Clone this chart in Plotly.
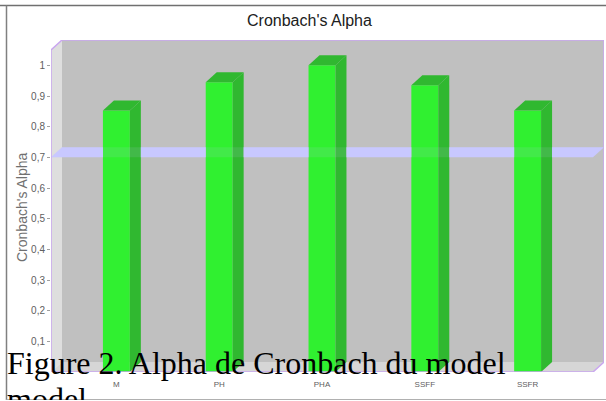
import plotly.graph_objects as go

categories = ["M", "PH", "PHA", "SSFF", "SSFR"]
alpha_values = [0.853, 0.945, 1.0, 0.935, 0.853]
threshold = 0.7
y_ticks = [0.1, 0.2, 0.3, 0.4, 0.5, 0.6, 0.7, 0.8, 0.9, 1]
y_tick_labels = ["0,1", "0,2", "0,3", "0,4", "0,5", "0,6", "0,7", "0,8", "0,9", "1"]

W, H = 606, 400
L, R, T, B = 51, 2, 40, 28
BAR_W = 0.262
DX = 0.107
DY = 0.0326
X0, X1 = -0.636, 4.636
Y0, Y1 = 0, 1.05
PURPLE = "#c9a6ef"

def px(x):
    return (x - L) / (W - L - R)
def py(y):
    return (H - B - y) / (H - T - B)

fig = go.Figure()

def poly(xs, ys, fill):
    return dict(type="path", layer="below", xref="x", yref="y",
                path="M " + " L ".join(f"{a},{b}" for a, b in zip(xs, ys)) + " Z",
                fillcolor=fill, line=dict(color="rgba(0,0,0,0)", width=0))

shapes = [
    poly([X0 + DX, X1 + DX, X1 + DX, X0 + DX], [Y0 + DY, Y0 + DY, Y1 + DY, Y1 + DY], "#c0c0c0"),
    poly([X0, X0 + DX, X0 + DX, X0], [Y0, Y0 + DY, Y1 + DY, Y1], "#dedede"),
    poly([X0, X1, X1 + DX, X0 + DX], [Y0, Y0, Y0 + DY, Y0 + DY], "#d6d6d6"),
]

fig.add_trace(go.Bar(x=list(range(len(categories))), y=alpha_values, width=BAR_W,
                     marker=dict(color="#30f030", line=dict(width=0)), hoverinfo="skip"))

for i, v in enumerate(alpha_values):
    l, r = i - BAR_W / 2, i + BAR_W / 2
    fig.add_trace(go.Scatter(x=[r, r + DX, r + DX, r, r], y=[Y0, Y0 + DY, v + DY, v, Y0],
                             mode="lines", fill="toself", fillcolor="#30b830",
                             line=dict(width=0), hoverinfo="skip"))
    fig.add_trace(go.Scatter(x=[l, l + DX, r + DX, r, l], y=[v, v + DY, v + DY, v, v],
                             mode="lines", fill="toself", fillcolor="#30b830",
                             line=dict(width=0), hoverinfo="skip"))

# threshold band: faint over the bars, solid between them
band_x = [X0, X0 + DX, X1 + DX, X1, X0]
band_y = [threshold, threshold + DY, threshold + DY, threshold, threshold]
fig.add_trace(go.Scatter(x=band_x, y=band_y, mode="lines", fill="toself",
                         fillcolor="rgba(200,200,255,0.12)", line=dict(width=0), hoverinfo="skip"))
edges = [e for i in range(len(categories)) for e in (i - BAR_W / 2, i + BAR_W / 2 + DX)]
starts = [X0] + edges[1::2]
ends = edges[0::2] + [X1 + DX]
for k, (a, b) in enumerate(zip(starts, ends)):
    low_a = a
    high_a = a + DX if k == 0 else a
    high_b = b
    low_b = b - DX if k == len(starts) - 1 else b
    fig.add_trace(go.Scatter(x=[low_a, high_a, high_b, low_b, low_a], y=band_y,
                             mode="lines", fill="toself", fillcolor="#c8c8ff",
                             line=dict(width=0), hoverinfo="skip"))

# plot outline
fig.add_trace(go.Scatter(
    x=[X0, X0, X0 + DX, X1 + DX, X1 + DX, X1, X0],
    y=[Y0, Y1, Y1 + DY, Y1 + DY, Y0 + DY, Y0, Y0],
    mode="lines", line=dict(color=PURPLE, width=1.5), hoverinfo="skip", cliponaxis=False))

# page frame
shapes += [
    dict(type="line", xref="paper", yref="paper", x0=px(0), x1=px(W), y0=py(5.5), y1=py(5.5),
         line=dict(color="#707070", width=1.5)),
    dict(type="line", xref="paper", yref="paper", x0=px(6.5), x1=px(6.5), y0=py(5.5), y1=py(H),
         line=dict(color="#808080", width=1.5)),
    dict(type="line", xref="paper", yref="paper", x0=px(6.5), x1=px(W), y0=py(399.5), y1=py(399.5),
         line=dict(color="#b0b0b0", width=1)),
]

annotations = [
    dict(text="Cronbach's Alpha", xref="paper", yref="paper", x=px(309), y=py(21),
         xanchor="center", yanchor="middle", showarrow=False,
         font=dict(family="Liberation Sans", size=16, color="#202020")),
    dict(text="Cronbach's Alpha", xref="paper", yref="paper", x=px(22), y=py(207), textangle=-90,
         xanchor="center", yanchor="middle", showarrow=False,
         font=dict(family="Liberation Sans", size=14, color="#707070")),
    dict(text="Figure 2. Alpha de Cronbach du model", xref="paper", yref="paper",
         x=px(7), y=py(363), xanchor="left", yanchor="middle", xshift=-2, showarrow=False,
         font=dict(family="Liberation Serif", size=32, color="#000000")),
    dict(text="model", xref="paper", yref="paper",
         x=px(7), y=py(399), xanchor="left", yanchor="middle", xshift=-2, showarrow=False,
         font=dict(family="Liberation Serif", size=32, color="#000000")),
]

fig.update_layout(
    width=W, height=H, margin=dict(l=L, r=R, t=T, b=B, autoexpand=False),
    paper_bgcolor="white", plot_bgcolor="white", showlegend=False,
    shapes=shapes, annotations=annotations,
    xaxis=dict(range=[X0, X1 + DX], tickvals=list(range(len(categories))), ticktext=categories,
               showgrid=False, zeroline=False, showline=False, ticks="",
               tickfont=dict(family="Liberation Sans", size=8, color="#606060"), ticklabelstandoff=6),
    yaxis=dict(range=[Y0, Y1 + DY], tickvals=y_ticks, ticktext=y_tick_labels,
               showgrid=False, zeroline=False, showline=False, ticks="outside", ticklen=3,
               tickcolor="#a0a0a0",
               tickfont=dict(family="Liberation Sans", size=10, color="#606060")),
)

post = """
document.body.style.margin='0';
document.documentElement.style.overflow='hidden';
"""
fig.write_html("out.html", config=dict(displayModeBar=False), post_script=post)
